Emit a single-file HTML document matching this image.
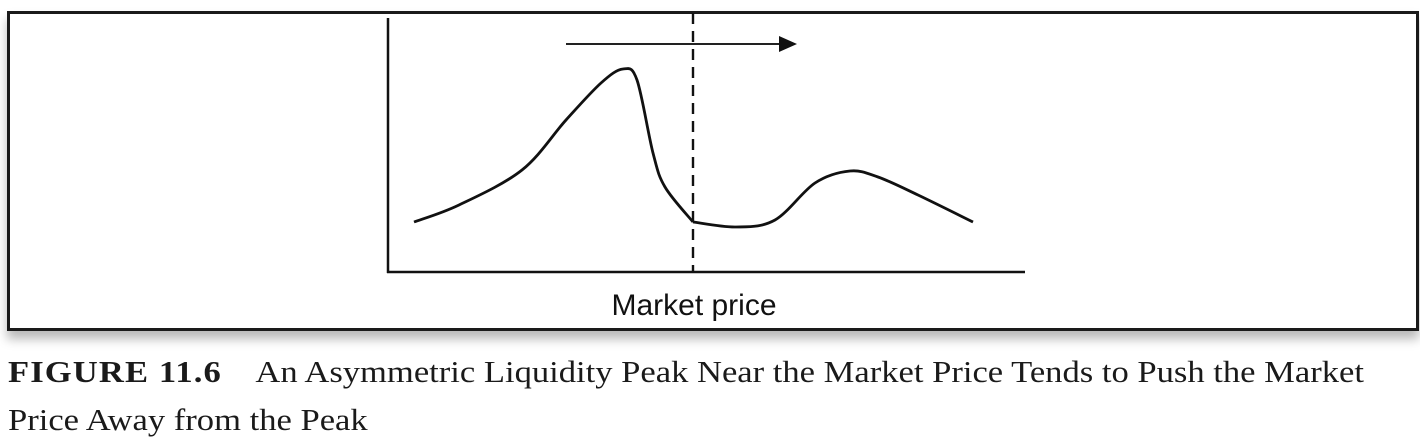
<!DOCTYPE html>
<html><head><meta charset="utf-8">
<style>
html,body{margin:0;padding:0;background:#fff;}
body{width:1420px;height:442px;position:relative;overflow:hidden;}
#frame{position:absolute;left:7px;top:11px;width:1406px;height:314px;border:3px solid #1a1a1a;background:#fff;box-shadow:0 8px 10px rgba(0,0,0,0.28);}
svg{position:absolute;left:0;top:0;}
.cap{position:absolute;left:8px;font-family:"Liberation Serif",serif;font-size:31px;color:#1a1a1a;white-space:nowrap;transform-origin:0 0;}
.cap b{font-weight:bold;letter-spacing:1px;margin-right:30px;}
</style></head><body>
<div id="frame"></div>
<svg id="chart" width="1420" height="442">
  <text x="694" y="315" text-anchor="middle" font-family="Liberation Sans, sans-serif" font-size="30" fill="#111">Market price</text>
</svg>
<div class="cap" style="top:354px;transform:scaleX(1.115)"><b>FIGURE 11.6</b>An Asymmetric Liquidity Peak Near the Market Price Tends to Push the Market</div>
<div class="cap" style="top:402px;transform:scaleX(1.115)">Price Away from the Peak</div>
<script>
// price offset from y-axis, liquidity height above x-axis
const prices = [26, 71, 134, 178, 213, 235, 249, 265, 277, 305, 348, 387, 427, 462, 490, 530, 585];
const liquidity = [50, 67, 102, 152, 189, 203, 192, 119, 85, 50, 45, 52, 89, 101, 95, 77, 50];
const marketPrice = 305;
const arrowFrom = 178, arrowTo = 409;
const arrowLevel = 228;

const ox = 388, oy = 272;
const X = v => ox + v;
const Y = v => oy - v;
const svg = document.getElementById('chart');
const NS = 'http://www.w3.org/2000/svg';
function mk(tag, attrs){const e=document.createElementNS(NS,tag);for(const k in attrs)e.setAttribute(k,attrs[k]);svg.appendChild(e);return e;}

const ya = mk('line',{x1:ox,y1:18,x2:ox,y2:oy+1,stroke:'#111','stroke-width':2.5});


const xa = mk('line',{x1:ox-1,y1:oy,x2:1025,y2:oy,stroke:'#111','stroke-width':2.5});



const dl = mk('line',{x1:X(marketPrice),y1:13,x2:X(marketPrice),y2:oy,stroke:'#111','stroke-width':2.4,'stroke-dasharray':'11,7'});



// smooth curve (Catmull-Rom), with a kink at the market price
const pts = prices.map((p,i)=>[X(p),Y(liquidity[i])]);
const kink = prices.indexOf(marketPrice);
function seg(a){
  let d = `M${a[0][0]},${a[0][1]}`;
  for(let i=0;i<a.length-1;i++){
    const p0=a[Math.max(0,i-1)],p1=a[i],p2=a[i+1],p3=a[Math.min(a.length-1,i+2)];
    const t=1/6;
    d+=` C${p1[0]+(p2[0]-p0[0])*t},${p1[1]+(p2[1]-p0[1])*t} ${p2[0]-(p3[0]-p1[0])*t},${p2[1]-(p3[1]-p1[1])*t} ${p2[0]},${p2[1]}`;
  }
  return d;
}
const d = kink>0 ? seg(pts.slice(0,kink+1)) + ' ' + seg(pts.slice(kink)) : seg(pts);
const c = mk('path',{d:d,fill:'none',stroke:'#111','stroke-width':2.8,'stroke-linejoin':'round'});



const ay = Y(arrowLevel);
const al = mk('line',{x1:X(arrowFrom),y1:ay,x2:X(arrowTo)-16,y2:ay,stroke:'#222','stroke-width':2});


const ah = mk('polygon',{points:`${X(arrowTo)-18},${ay-8} ${X(arrowTo)},${ay} ${X(arrowTo)-18},${ay+8}`,fill:'#111'});


</script>
</body></html>
